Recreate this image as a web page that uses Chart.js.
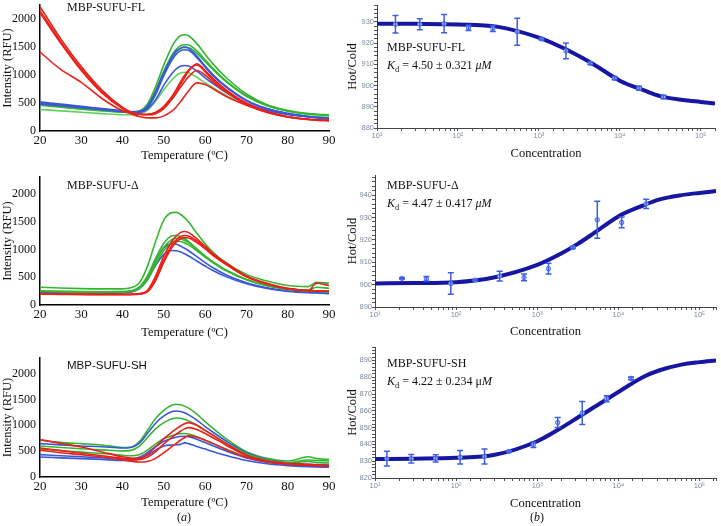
<!DOCTYPE html>
<html>
<head>
<meta charset="utf-8">
<script src="https://cdn.jsdelivr.net/npm/chart.js@4/dist/chart.umd.min.js"></script>
<style>
  html, body { margin: 0; padding: 0; background: #fff; }
  #wrap { position: relative; width: 721px; height: 526px; overflow: hidden; background: #fff; }
  canvas { position: absolute; }
  .lbl { position: absolute; white-space: nowrap; line-height: 14px; color: #111;
         font-family: 'Liberation Serif', 'Times New Roman', serif; font-size: 12px; }
  .sans { font-family: 'Liberation Sans', Arial, sans-serif; font-size: 11.5px; }
  .sub { font-size: 0.7em; position: relative; top: 0.3em; }
</style>
</head>
<body>
<div id="wrap">
  <canvas id="cTL" width="345" height="170" style="left:0;top:0"></canvas>
  <canvas id="cML" width="345" height="170" style="left:0;top:170px"></canvas>
  <canvas id="cBL" width="345" height="186" style="left:0;top:340px"></canvas>
  <canvas id="cTR" width="381" height="170" style="left:340px;top:0"></canvas>
  <canvas id="cMR" width="381" height="170" style="left:340px;top:170px"></canvas>
  <canvas id="cBR" width="381" height="186" style="left:340px;top:340px"></canvas>

  <div class="lbl" style="left:67px;top:0px">MBP-SUFU-FL</div>
  <div class="lbl" style="left:67px;top:178px">MBP-SUFU-Δ</div>
  <div class="lbl sans" style="left:67px;top:358px">MBP-SUFU-SH</div>

  <div class="lbl" style="left:387px;top:40px">MBP-SUFU-FL</div>
  <div class="lbl" style="left:387px;top:58px"><i>K</i><span class="sub">d</span> = 4.50 ± 0.321 <i>μM</i></div>
  <div class="lbl" style="left:387px;top:178px">MBP-SUFU-Δ</div>
  <div class="lbl" style="left:387px;top:196px"><i>K</i><span class="sub">d</span> = 4.47 ± 0.417 <i>μM</i></div>
  <div class="lbl" style="left:387px;top:356px">MBP-SUFU-SH</div>
  <div class="lbl" style="left:387px;top:374px"><i>K</i><span class="sub">d</span> = 4.22 ± 0.234 μ<i>M</i></div>

  <div class="lbl" style="left:177px;top:510px">(<i>a</i>)</div>
  <div class="lbl" style="left:530px;top:510px">(<i>b</i>)</div>
</div>
<script>
// ---------------- DATA ----------------
// Temperature axis (°C) for thermal melt curves
const T = [20,25,30,35,40,42,44,46,48,50,52,53,54,55,56,58,60,62,65,70,75,80,85,87,90];

// MBP-SUFU-FL melt curves (RFU)
const FL_R1 = [2220,1650,1150,730,420,340,300,290,310,400,580,700,830,950,1070,1200,1080,930,740,500,350,260,210,200,190];
const FL_R2 = [2150,1600,1110,700,410,335,300,295,330,440,620,740,870,990,1090,1180,1060,910,725,490,345,255,210,200,190];
const FL_R3 = [2110,1570,1080,680,400,330,300,300,330,420,570,670,780,880,970,1080,1000,870,700,480,340,250,205,195,185];
const FL_R4 = [1410,1100,870,580,360,310,260,235,235,270,360,430,520,620,720,860,830,750,620,460,330,250,205,195,185];
const FL_B1 = [520,480,440,400,360,345,350,440,700,1050,1330,1430,1480,1500,1480,1340,1160,1000,800,550,400,315,260,245,230];
const FL_B2 = [500,465,430,390,350,335,335,410,650,990,1270,1370,1430,1450,1440,1310,1140,980,790,540,395,310,255,240,225];
const FL_B3 = [480,450,415,380,345,330,330,390,560,820,1030,1110,1155,1170,1160,1070,950,840,690,490,370,295,250,235,220];
const FL_G1 = [470,440,400,370,340,335,355,480,790,1180,1510,1630,1700,1720,1700,1560,1370,1190,960,660,470,370,310,300,290];
const FL_G2 = [485,445,405,375,345,340,350,450,720,1070,1360,1460,1520,1540,1535,1430,1270,1110,900,630,455,360,305,295,285];
const FL_G3 = [460,425,390,360,335,330,340,430,690,1030,1310,1410,1470,1490,1485,1390,1240,1090,885,620,450,355,300,290,280];
const FL_G4 = [385,360,335,310,290,290,305,370,530,740,920,990,1035,1050,1040,960,860,770,640,470,360,300,265,255,250];

// MBP-SUFU-Δ melt curves (RFU)
const D_G1 = [318,305,295,290,290,310,390,690,1140,1530,1660,1665,1630,1570,1490,1290,1100,940,760,550,430,350,330,410,390];
const D_G2 = [255,245,240,238,240,255,320,520,840,1110,1245,1250,1230,1190,1140,1010,880,770,630,460,350,290,265,320,300];
const D_G3 = [250,242,236,233,235,250,305,480,780,1040,1180,1200,1190,1160,1120,1000,880,770,630,460,350,285,255,250,240];
const D_G4 = [245,238,232,230,232,245,295,450,730,980,1125,1150,1140,1115,1080,975,860,755,620,455,345,280,250,245,235];
const D_B1 = [240,232,226,222,225,245,310,500,800,1030,1100,1090,1060,1020,975,870,760,665,545,400,310,255,230,225,215];
const D_B2 = [230,222,216,212,215,232,290,450,710,910,980,975,955,920,880,790,700,615,510,380,295,245,220,215,205];
const D_R1 = [205,200,195,192,192,195,205,260,520,880,1150,1240,1300,1320,1300,1190,1060,920,760,520,390,300,265,390,350];
const D_R2 = [198,194,190,188,188,190,200,245,470,810,1080,1170,1225,1250,1240,1150,1030,900,740,510,380,295,260,255,250];
const D_R3 = [195,191,188,185,185,187,196,235,440,770,1040,1130,1185,1210,1205,1120,1010,885,730,505,375,290,255,250,245];

// MBP-SUFU-SH melt curves (RFU)
const S_G1 = [710,670,645,620,570,580,680,900,1130,1290,1390,1406,1395,1370,1330,1215,1070,935,745,490,360,310,390,355,340];
const S_B1 = [645,620,600,585,560,570,650,840,1040,1180,1265,1275,1265,1240,1200,1100,975,860,700,470,340,275,245,240,230];
const S_G2 = [600,570,545,525,505,515,590,760,930,1050,1125,1140,1135,1115,1085,1000,900,800,660,450,330,275,330,320,310];
const S_R1 = [723,650,580,485,390,365,360,440,580,740,870,930,985,1030,1050,1000,900,805,650,425,310,265,245,235,225];
const S_R2 = [560,510,460,410,360,340,335,380,490,640,770,830,885,930,955,920,840,755,620,415,305,255,235,225,215];
const S_R3 = [520,470,430,385,330,305,290,300,360,470,590,650,710,760,794,770,710,645,535,380,290,245,225,220,210];
const S_G3 = [542,510,480,455,420,410,430,520,640,740,800,825,838,840,830,780,710,640,540,390,300,260,300,280,270];
const S_B2 = [432,410,390,372,350,350,380,470,590,690,750,770,782,787,780,730,665,600,505,370,285,240,220,215,210];
const S_B3 = [387,370,355,340,320,325,350,420,520,600,620,625,630,660,645,590,540,490,420,320,255,220,200,195,190];

// Left axes: y range and tick labels
const LEFT_YMAX = [2250, 2300, 2300];
const LEFT_YTICKS = [0, 500, 1000, 1500, 2000];
const LEFT_XTICKS = [20, 30, 40, 50, 60, 70, 80, 90];

// MST binding data (concentration, Hot/Cold, error)
const FL_conc = [16.9,33.8,67.5,135,270,540,1080,2160,4320,8640,17280,34560];
const FL_val  = [928.9,928.9,929.2,927.2,926.9,925.4,922.0,916.4,910.5,903.5,898.8,894.6];
const FL_err  = [4.1,2.6,4.3,1.2,1.4,6.4,0.5,3.7,0.5,0.8,1.0,0.8];
const FL_fitConc = [10,30,100,300,1000,2000,3162,5000,10000,20000,31620,60000,100000,150000];
const FL_fitVal  = [929.2,929.1,928.8,927.8,922.6,917.7,913.8,909.5,902.3,897.7,895.0,893.2,892.3,891.6];

const D_conc = [21.5,43,86,172,344,688,1375,2750,5500,11000,22000];
const D_val  = [902.8,902.6,900.5,902.0,903.8,903.2,907.1,916.6,929.0,927.8,936.1];
const D_err  = [0.3,1.0,4.8,0.3,2.2,1.5,2.4,0.4,8.3,2.4,2.1];
const D_fitConc = [10,30,100,300,1000,2000,3162,5000,10000,20000,31620,60000,100000,160000];
const D_fitVal  = [900.5,900.7,901.1,903.3,908.8,914.0,918.2,923.0,930.5,935.3,938.0,940.0,941.0,941.8];

const S_conc = [14,28,56,112,224,448,897,1790,3590,7170,14350];
const S_val  = [831.5,831.5,831.7,832.3,832.8,835.8,839.8,853.0,858.7,867.2,879.3];
const S_err  = [4.4,2.5,2.2,4.0,4.4,0.5,1.6,3.0,6.9,1.8,0.8];
const S_fitConc = [10,30,100,300,1000,2000,3162,5000,10000,20000,31620,60000,100000,160000];
const S_fitVal  = [831.3,831.5,832.0,833.8,841.9,850.0,856.0,862.1,871.2,880.0,884.0,887.5,889.0,890.0];

// Right axes: y ranges and labelled ticks
const R_YMIN = [880, 890, 820];
const R_YMAX = [938, 949, 898];
const R_XMAX = [150000, 160000, 160000];
const R_YTICKS_FL = [880, 890, 900, 910, 920, 930];
const R_YTICKS_D  = [890, 900, 910, 920, 930, 940];
const R_YTICKS_S  = [820, 830, 840, 850, 860, 870, 880, 890];
const R_YMINOR = 2;

// ---------------- RENDER ----------------
Chart.defaults.animation = false;
Chart.defaults.responsive = false;
Chart.defaults.devicePixelRatio = 1;
Chart.defaults.plugins.legend.display = false;
Chart.defaults.plugins.tooltip.enabled = false;

const RED = '#e8211b', BLUE = '#3a56d9', GREEN = '#36b530', LGREEN = '#62d15c';
const SERIF = "'Liberation Serif', 'Times New Roman', serif";

const errorBars = {
  id: 'errorBars',
  afterDatasetsDraw(chart) {
    const ctx = chart.ctx;
    const xs = chart.scales.x, ys = chart.scales.y;
    chart.data.datasets.forEach(ds => {
      if (!ds.errors) return;
      ctx.save();
      ctx.strokeStyle = '#3d5fe6';
      ctx.lineWidth = 1.5;
      ds.data.forEach((p, j) => {
        const e = ds.errors[j];
        const x = xs.getPixelForValue(p.x);
        const y1 = ys.getPixelForValue(p.y - e);
        const y2 = ys.getPixelForValue(p.y + e);
        ctx.beginPath();
        ctx.moveTo(x, y1); ctx.lineTo(x, y2);
        ctx.moveTo(x - 3, y1); ctx.lineTo(x + 3, y1);
        ctx.moveTo(x - 3, y2); ctx.lineTo(x + 3, y2);
        ctx.stroke();
      });
      ctx.restore();
    });
  }
};

function fixX(h) {
  return s => { s.height = h; s.paddingLeft = 0; s.paddingRight = 0; s.paddingTop = 0; s.paddingBottom = 0; };
}
function fixY(w) {
  return s => { s.width = w; s.paddingLeft = 0; s.paddingRight = 0; s.paddingTop = 0; s.paddingBottom = 0; };
}
function pts(xs, ys) { return xs.map((x, i) => ({ x: x, y: ys[i] })); }

function leftChart(id, series, ymax, lay) {
  const datasets = series.map(s => ({
    data: pts(T, s.v), borderColor: s.c, borderWidth: 1.6, pointRadius: 0,
    cubicInterpolationMode: 'monotone', fill: false
  }));
  new Chart(document.getElementById(id), {
    type: 'line',
    data: { datasets },
    options: {
      layout: { padding: { top: lay.top, right: lay.right, left: 0, bottom: 0 } },
      scales: {
        x: {
          type: 'linear', min: 20, max: 90,
          afterFit: fixX(lay.xh),
          afterBuildTicks: s => { s.ticks = LEFT_XTICKS.map(v => ({ value: v })); },
          ticks: { padding: 2, color: '#111', font: { family: SERIF, size: 13 }, callback: v => String(v) },
          grid: { display: false, drawTicks: false },
          border: { display: true, color: '#000', width: 1.5 },
          title: { display: true, text: 'Temperature (ºC)', color: '#111',
                   font: { family: SERIF, size: 12.5 }, padding: { top: 0, bottom: lay.tpad } }
        },
        y: {
          min: 0, max: ymax,
          afterFit: fixY(40),
          afterBuildTicks: s => { s.ticks = LEFT_YTICKS.map(v => ({ value: v })); },
          ticks: { padding: 4, color: '#111', font: { family: SERIF, size: 12 }, callback: v => String(v) },
          grid: { display: false, drawTicks: false },
          border: { display: true, color: '#000', width: 1.5 },
          title: { display: true, text: 'Intensity (RFU)', color: '#111',
                   font: { family: SERIF, size: 12.5 }, padding: { top: 0, bottom: 0 } }
        }
      }
    }
  });
}

const SUP = { 1: '¹', 2: '²', 3: '³', 4: '⁴', 5: '⁵', 6: '⁶' };

function rightChart(id, conc, val, err, fitC, fitV, ymin, ymax, yticks, xmax, lay) {
  new Chart(document.getElementById(id), {
    type: 'line',
    data: {
      datasets: [
        { data: pts(conc, val), errors: err, showLine: false, pointRadius: 2.2,
          pointBorderWidth: 1, pointBorderColor: '#4a6cf0', pointBackgroundColor: '#b8c8ff' },
        { data: pts(fitC, fitV), borderColor: '#1616a3', borderWidth: 4, pointRadius: 0,
          cubicInterpolationMode: 'monotone', fill: false }
      ]
    },
    options: {
      layout: { padding: { top: lay.top, right: lay.right, left: 0, bottom: 0 } },
      scales: {
        x: {
          type: 'logarithmic', min: 10, max: xmax,
          afterFit: fixX(lay.xh),
          ticks: { autoSkip: false, maxRotation: 0, padding: 0, color: '#7b89a0',
                   font: { family: "'Liberation Sans', Arial, sans-serif", size: 7.5 },
                   callback: v => {
                     const l = Math.log10(v);
                     return Math.abs(l - Math.round(l)) < 1e-6 ? '10' + SUP[Math.round(l)] : '';
                   } },
          grid: { display: true, drawOnChartArea: false, drawTicks: true, tickLength: 3, color: '#555' },
          border: { display: true, color: '#444', width: 1 },
          title: { display: true, text: 'Concentration', color: '#111',
                   font: { family: SERIF, size: 12.5 }, padding: { top: 0, bottom: lay.tpad } }
        },
        y: {
          min: ymin, max: ymax,
          afterFit: fixY(lay.yw),
          afterBuildTicks: s => {
            const t = [];
            for (let v = ymin; v <= ymax; v += R_YMINOR) t.push({ value: v });
            s.ticks = t;
          },
          ticks: { autoSkip: false, padding: 0, color: '#7b89a0',
                   font: { family: "'Liberation Sans', Arial, sans-serif", size: 7.5 },
                   callback: v => (yticks.includes(Math.round(v)) ? String(Math.round(v)) : '') },
          grid: { display: true, drawOnChartArea: false, drawTicks: true, tickLength: 3, color: '#555' },
          border: { display: true, color: '#444', width: 1 },
          title: { display: true, text: 'Hot/Cold', color: '#111',
                   font: { family: SERIF, size: 12.5 }, padding: { top: lay.ytpad, bottom: 0 } }
        }
      }
    },
    plugins: [errorBars]
  });
}

leftChart('cTL', [
  { v: FL_R4, c: RED }, { v: FL_R3, c: RED }, { v: FL_R2, c: RED }, { v: FL_R1, c: RED },
  { v: FL_B3, c: BLUE }, { v: FL_B2, c: BLUE }, { v: FL_B1, c: BLUE },
  { v: FL_G4, c: LGREEN }, { v: FL_G3, c: GREEN }, { v: FL_G2, c: GREEN }, { v: FL_G1, c: GREEN }
], LEFT_YMAX[0], { top: 5, right: 16, xh: 39, tpad: 7 });

leftChart('cML', [
  { v: D_R3, c: RED }, { v: D_R2, c: RED }, { v: D_R1, c: RED },
  { v: D_G4, c: GREEN }, { v: D_G3, c: GREEN }, { v: D_G2, c: GREEN },
  { v: D_B2, c: BLUE }, { v: D_B1, c: BLUE }, { v: D_G1, c: GREEN }
], LEFT_YMAX[1], { top: 7, right: 16, xh: 35, tpad: 0 });

leftChart('cBL', [
  { v: S_R3, c: RED }, { v: S_R2, c: RED }, { v: S_R1, c: RED },
  { v: S_B3, c: BLUE }, { v: S_B2, c: BLUE }, { v: S_G3, c: GREEN },
  { v: S_G2, c: GREEN }, { v: S_B1, c: BLUE }, { v: S_G1, c: GREEN }
], LEFT_YMAX[2], { top: 18, right: 16, xh: 49, tpad: 16 });

rightChart('cTR', FL_conc, FL_val, FL_err, FL_fitConc, FL_fitVal, R_YMIN[0], R_YMAX[0], R_YTICKS_FL, R_XMAX[0],
  { top: 2, right: 6, xh: 42, yw: 37, tpad: 9, ytpad: 5.5 });
rightChart('cMR', D_conc, D_val, D_err, D_fitConc, D_fitVal, R_YMIN[1], R_YMAX[1], R_YTICKS_D, R_XMAX[1],
  { top: 2, right: 3, xh: 33, yw: 35, tpad: 1, ytpad: 5.5 });
rightChart('cBR', S_conc, S_val, S_err, S_fitConc, S_fitVal, R_YMIN[2], R_YMAX[2], R_YTICKS_S, R_XMAX[2],
  { top: 7, right: 3, xh: 48, yw: 35, tpad: 15, ytpad: 5.5 });
</script>
</body>
</html>
